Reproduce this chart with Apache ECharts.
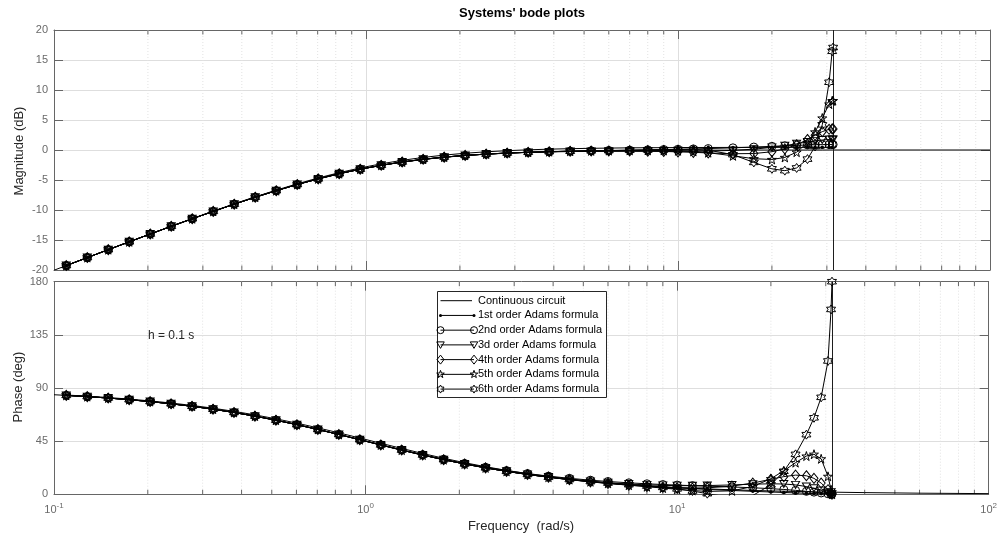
<!DOCTYPE html>
<html>
<head>
<meta charset="utf-8">
<title>Systems' bode plots</title>
<script src="https://cdn.jsdelivr.net/npm/echarts@6/dist/echarts.min.js"></script>
<style>
  html, body { margin: 0; padding: 0; background: #ffffff; }
  #chart { width: 1000px; height: 536px; }
</style>
</head>
<body>
<div id="chart"></div>
<script>
// Sampling of the discrete models: h = 0.1 s, Nyquist frequency pi/h (rad/s)
const nyquistFreq = 31.416;

// Frequency grid (rad/s) of the discrete (Adams formula) responses
const freqDiscrete = [0.1095, 0.1279, 0.1493, 0.1743, 0.2035, 0.2376, 0.2774, 0.3239, 0.3782, 0.4416,
  0.5156, 0.602, 0.7029, 0.8207, 0.9583, 1.119, 1.306, 1.525, 1.781, 2.079,
  2.428, 2.835, 3.31, 3.865, 4.512, 5.27, 6, 7, 8, 9,
  10, 11.2, 12.5, 15, 17.5, 20, 22, 24, 26, 27.5,
  29, 30.5, 31.2, 31.416];

// Frequency grid (rad/s) of the continuous circuit response
const freqContinuous = [0.1, 0.1095, 0.1279, 0.1493, 0.1743, 0.2035, 0.2376, 0.2774, 0.3239, 0.3782, 0.4416,
  0.5156, 0.602, 0.7029, 0.8207, 0.9583, 1.119, 1.306, 1.525, 1.781, 2.079,
  2.428, 2.835, 3.31, 3.865, 4.512, 5.27, 6, 7, 8, 9,
  10, 11.2, 12.5, 15, 17.5, 20, 22, 24, 26, 27.5,
  29, 30.5, 31.2, 31.416, 40, 60, 100];

// Magnitude (dB) and phase (deg) of the continuous circuit
const magContinuous = [-20.04, -19.26, -17.93, -16.61, -15.30, -14.00, -12.72, -11.46, -10.23, -9.03, -7.87,
  -6.78, -5.75, -4.81, -3.95, -3.20, -2.55, -2.00, -1.55, -1.19, -0.90,
  -0.68, -0.51, -0.38, -0.28, -0.21, -0.15, -0.12, -0.09, -0.07, -0.05,
  -0.04, -0.03, -0.03, -0.02, -0.01, -0.01, -0.01, -0.01, -0.01, -0.01,
  -0.01, 0, 0, 0, 0, 0, 0];
const phaseContinuous = [84.29, 83.75, 82.71, 81.51, 80.11, 78.50, 76.63, 74.50, 72.05, 69.28, 66.17,
  62.73, 58.95, 54.90, 50.63, 46.22, 41.79, 37.44, 33.25, 29.31, 25.69,
  22.39, 19.43, 16.81, 14.51, 12.50, 10.74, 9.46, 8.13, 7.13, 6.34,
  5.71, 5.10, 4.57, 3.81, 3.27, 2.86, 2.60, 2.39, 2.20, 2.08,
  1.98, 1.88, 1.84, 1.82, 1.43, 0.95, 0.57];

// 1st order Adams formula
const magAdams1 = [-19.26, -17.93, -16.61, -15.29, -13.99, -12.70, -11.43, -10.18, -8.97, -7.80,
  -6.69, -5.64, -4.66, -3.78, -2.99, -2.30, -1.72, -1.24, -0.85, -0.54,
  -0.30, -0.11, 0.03, 0.14, 0.22, 0.28, 0.32, 0.36, 0.38, 0.39,
  0.41, 0.42, 0.42, 0.43, 0.44, 0.44, 0.44, 0.44, 0.44, 0.45,
  0.45, 0.45, 0.45, 0.45];
const phaseAdams1 = [84.06, 83.07, 81.93, 80.60, 79.06, 77.28, 75.24, 72.90, 70.23, 67.24,
  63.90, 60.23, 56.26, 52.04, 47.66, 43.22, 38.83, 34.56, 30.52, 26.77,
  23.34, 20.25, 17.49, 15.06, 12.92, 11.04, 9.66, 8.21, 7.10, 6.22,
  5.50, 4.80, 4.17, 3.23, 2.52, 1.94, 1.54, 1.17, 0.84, 0.60,
  0.37, 0.14, 0.03, 0];

// 2nd order Adams formula
const magAdams2 = [-19.26, -17.93, -16.61, -15.30, -14.00, -12.72, -11.46, -10.23, -9.03, -7.87,
  -6.78, -5.75, -4.81, -3.96, -3.21, -2.57, -2.02, -1.58, -1.21, -0.93,
  -0.70, -0.53, -0.39, -0.29, -0.20, -0.13, -0.08, -0.02, 0.03, 0.08,
  0.12, 0.18, 0.24, 0.36, 0.49, 0.61, 0.70, 0.77, 0.84, 0.87,
  0.90, 0.91, 0.91, 0.92];
const phaseAdams2 = [83.75, 82.71, 81.51, 80.11, 78.50, 76.63, 74.50, 72.05, 69.28, 66.18,
  62.74, 58.97, 54.93, 50.71, 46.33, 41.94, 37.65, 33.52, 29.66, 26.12,
  22.91, 20.07, 17.56, 15.40, 13.54, 11.97, 10.84, 9.72, 8.90, 8.27,
  7.79, 7.32, 6.89, 6.20, 5.52, 4.77, 4.09, 3.34, 2.50, 1.84,
  1.15, 0.44, 0.10, 0];

// 3d order Adams formula
const magAdams3 = [-19.26, -17.93, -16.61, -15.30, -14.00, -12.72, -11.46, -10.23, -9.03, -7.87,
  -6.78, -5.75, -4.81, -3.95, -3.20, -2.55, -2.00, -1.55, -1.19, -0.90,
  -0.68, -0.51, -0.40, -0.32, -0.26, -0.23, -0.22, -0.21, -0.21, -0.22,
  -0.22, -0.21, -0.18, -0.06, 0.14, 0.44, 0.73, 1.04, 1.34, 1.52,
  1.67, 1.75, 1.76, 1.76];
const phaseAdams3 = [83.75, 82.71, 81.51, 80.11, 78.50, 76.63, 74.50, 72.05, 69.28, 66.17,
  62.73, 58.95, 54.90, 50.63, 46.22, 41.79, 37.44, 33.25, 29.31, 25.69,
  22.39, 19.48, 16.87, 14.59, 12.64, 10.95, 9.80, 8.70, 7.98, 7.55,
  7.33, 7.27, 7.39, 7.94, 8.57, 8.90, 8.71, 7.96, 6.56, 5.08,
  3.29, 1.28, 0.30, 0];

// 4th order Adams formula
const magAdams4 = [-19.26, -17.93, -16.61, -15.30, -14.00, -12.72, -11.46, -10.23, -9.03, -7.87,
  -6.78, -5.75, -4.81, -3.95, -3.20, -2.55, -2.00, -1.55, -1.19, -0.90,
  -0.68, -0.51, -0.38, -0.28, -0.22, -0.18, -0.16, -0.17, -0.20, -0.24,
  -0.31, -0.39, -0.49, -0.62, -0.59, -0.29, 0.19, 0.88, 1.75, 2.45,
  3.06, 3.45, 3.52, 3.52];
const phaseAdams4 = [83.75, 82.71, 81.51, 80.11, 78.50, 76.63, 74.50, 72.05, 69.28, 66.17,
  62.73, 58.95, 54.90, 50.63, 46.22, 41.79, 37.44, 33.25, 29.31, 25.69,
  22.39, 19.43, 16.81, 14.51, 12.38, 10.52, 9.17, 7.76, 6.72, 5.98,
  5.51, 5.29, 5.46, 6.92, 9.55, 12.71, 14.96, 16.24, 15.69, 13.50,
  9.50, 3.89, 0.93, 0];

// 5th order Adams formula
const magAdams5 = [-19.26, -17.93, -16.61, -15.30, -14.00, -12.72, -11.46, -10.23, -9.03, -7.87,
  -6.78, -5.75, -4.81, -3.95, -3.20, -2.55, -2.00, -1.55, -1.19, -0.90,
  -0.68, -0.51, -0.38, -0.28, -0.21, -0.14, -0.10, -0.07, -0.06, -0.08,
  -0.13, -0.25, -0.45, -0.97, -1.45, -1.58, -1.24, -0.36, 1.23, 3.01,
  5.33, 7.65, 8.19, 8.23];
const phaseAdams5 = [83.75, 82.71, 81.51, 80.11, 78.50, 76.63, 74.50, 72.05, 69.28, 66.17,
  62.73, 58.95, 54.90, 50.63, 46.22, 41.79, 37.44, 33.25, 29.31, 25.69,
  22.39, 19.43, 16.81, 14.51, 12.45, 10.64, 9.26, 7.73, 6.43, 5.27,
  4.22, 3.17, 2.44, 2.92, 6.60, 13.23, 19.89, 26.78, 32.38, 33.93,
  30.04, 15.20, 3.81, 0];

// 6th order Adams formula
const magAdams6 = [-19.26, -17.93, -16.61, -15.30, -14.00, -12.72, -11.46, -10.23, -9.03, -7.87,
  -6.78, -5.75, -4.81, -3.95, -3.20, -2.55, -2.00, -1.55, -1.19, -0.90,
  -0.68, -0.51, -0.38, -0.28, -0.21, -0.14, -0.10, -0.05, 0.01, 0.06,
  0.10, 0.10, -0.02, -0.78, -2.07, -3.14, -3.44, -2.99, -1.52, 0.59,
  4.20, 11.29, 16.45, 17.08];
const phaseAdams6 = [83.75, 82.71, 81.51, 80.11, 78.50, 76.63, 74.50, 72.05, 69.28, 66.17,
  62.73, 58.95, 54.90, 50.63, 46.22, 41.79, 37.44, 33.25, 29.31, 25.69,
  22.39, 19.43, 16.81, 14.51, 12.50, 10.77, 9.49, 8.11, 6.95, 5.82,
  4.57, 2.78, 0.54, -2.85, -0.97, 8.03, 19.50, 33.81, 50.49, 64.78,
  82.09, 112.88, 156.52, 180];

const seriesNames = ['Continuous circuit', '1st order Adams formula', '2nd order Adams formula',
  '3d order Adams formula', '4th order Adams formula', '5th order Adams formula', '6th order Adams formula'];

// Axis ticks
const magTicks = [-20, -15, -10, -5, 0, 5, 10, 15, 20];
const phaseTicks = [0, 45, 90, 135, 180];
const freqRange = [0.1, 100];
const minorFreqTicks = [0.2, 0.3, 0.4, 0.5, 0.6, 0.7, 0.8, 0.9, 2, 3, 4, 5, 6, 7, 8, 9,
  20, 30, 40, 50, 60, 70, 80, 90];

// ---------------------------------------------------------------------------
const FONT = "'Liberation Sans', Arial, Helvetica, sans-serif";
const AXIS_COLOR = '#666666';
const TICK_TEXT = '#6a6a6a';
const LABEL_TEXT = '#262626';
const GRID_COLOR = '#dedede';
const MINOR_GRID_COLOR = '#e2e2e2';
const LINE_COLOR = '#000000';

const PENTAGRAM = 'path://M50,0L61.2,34.5L97.6,34.5L68.2,55.9L79.4,90.5L50,69.1L20.6,90.5L31.8,55.9L2.4,34.5L38.8,34.5Z';
const HEXAGRAM = 'path://M50,0L64.4,25L93.3,25L78.9,50L93.3,75L64.4,75L50,100L35.6,75L6.7,75L21.1,50L6.7,25L35.6,25Z';
const TRIANGLE_DOWN = 'path://M0,0L10,0L5,8.66Z';

// Marker of each curve (index matches seriesNames)
const markers = [
  null,
  { symbol: 'circle', size: 3.5, fill: '#000000', kind: 'dot' },
  { symbol: 'circle', size: 8, fill: 'none', kind: 'circle' },
  { symbol: TRIANGLE_DOWN, size: [8, 7], fill: 'none', kind: 'triangle' },
  { symbol: 'diamond', size: [8, 10], fill: 'none', kind: 'diamond' },
  { symbol: PENTAGRAM, size: 9, fill: 'none', kind: 'pentagram' },
  { symbol: HEXAGRAM, size: 9, fill: 'none', kind: 'hexagram' }
];

const magData = [magContinuous, magAdams1, magAdams2, magAdams3, magAdams4, magAdams5, magAdams6];
const phaseData = [phaseContinuous, phaseAdams1, phaseAdams2, phaseAdams3, phaseAdams4, phaseAdams5, phaseAdams6];

function curve(idx, values, axisIndex) {
  const m = markers[idx];
  const xs = idx === 0 ? freqContinuous : freqDiscrete;
  const s = {
    name: seriesNames[idx],
    type: 'line',
    xAxisIndex: axisIndex,
    yAxisIndex: axisIndex,
    data: xs.map((x, i) => [x, values[i]]),
    symbol: m ? m.symbol : 'none',
    symbolSize: m ? m.size : 0,
    showSymbol: !!m,
    showAllSymbol: true,
    clip: true,
    silent: true,
    animation: false,
    z: 3 + idx,
    lineStyle: { color: LINE_COLOR, width: 1 },
    itemStyle: {
      color: m ? m.fill : LINE_COLOR,
      borderColor: LINE_COLOR,
      borderWidth: m && m.fill === 'none' ? 1 : 0
    },
    emphasis: { disabled: true }
  };
  if (idx === 6) {
    // Nyquist frequency of the sampled systems
    s.markLine = {
      silent: true,
      symbol: ['none', 'none'],
      label: { show: false },
      animation: false,
      lineStyle: { color: '#1e1e1e', width: 1, type: 'solid' },
      data: [{ xAxis: nyquistFreq }]
    };
  }
  return s;
}

// Dotted minor grid and minor tick marks of the log frequency axis
function minorRender(params, api) {
  const cs = params.coordSys;
  const px = api.coord([api.value(0), api.value(1)])[0];
  const top = cs.y, bottom = cs.y + cs.height;
  return {
    type: 'group',
    children: [
      { type: 'line', shape: { x1: px, y1: top, x2: px, y2: bottom },
        style: { stroke: MINOR_GRID_COLOR, lineWidth: 1, lineDash: [1, 2] } },
      { type: 'line', shape: { x1: px, y1: top, x2: px, y2: top + 4.5 },
        style: { stroke: AXIS_COLOR, lineWidth: 1 } },
      { type: 'line', shape: { x1: px, y1: bottom, x2: px, y2: bottom - 4.5 },
        style: { stroke: AXIS_COLOR, lineWidth: 1 } }
    ]
  };
}

function minorSeries(axisIndex, yBase) {
  return {
    type: 'custom',
    coordinateSystem: 'cartesian2d',
    xAxisIndex: axisIndex,
    yAxisIndex: axisIndex,
    data: minorFreqTicks.map(v => [v, yBase]),
    renderItem: minorRender,
    silent: true,
    animation: false,
    clip: false,
    z: 1
  };
}

function freqAxis(gridIndex, position, opts) {
  return Object.assign({
    type: 'log',
    logBase: 10,
    gridIndex: gridIndex,
    position: position,
    min: freqRange[0],
    max: freqRange[1],
    axisLine: { show: true, onZero: false, lineStyle: { color: AXIS_COLOR, width: 1 } },
    axisTick: { show: true, inside: true, length: 9, lineStyle: { color: AXIS_COLOR, width: 1 } },
    axisLabel: { show: false },
    splitLine: { show: false },
    minorTick: { show: false },
    minorSplitLine: { show: false }
  }, opts || {});
}

function valueAxis(gridIndex, position, ticks, opts) {
  return Object.assign({
    type: 'value',
    gridIndex: gridIndex,
    position: position,
    min: ticks[0],
    max: ticks[ticks.length - 1],
    interval: ticks[1] - ticks[0],
    axisLine: { show: true, onZero: false, lineStyle: { color: AXIS_COLOR, width: 1 } },
    axisTick: { show: true, inside: true, length: 9, lineStyle: { color: AXIS_COLOR, width: 1 } },
    axisLabel: { show: false },
    splitLine: { show: false }
  }, opts || {});
}

const gridLine = { show: true, lineStyle: { color: GRID_COLOR, width: 1, type: 'solid' } };
const yLabel = { show: true, fontSize: 11, color: TICK_TEXT, fontFamily: FONT, margin: 6 };

// Legend drawn as graphic elements (sample line with a marker at each end)
function starPoints(cx, cy, n, R, r) {
  const pts = [];
  for (let k = 0; k < 2 * n; k++) {
    const a = -Math.PI / 2 + k * Math.PI / n;
    const rad = k % 2 === 0 ? R : r;
    pts.push([cx + rad * Math.cos(a), cy + rad * Math.sin(a)]);
  }
  return pts;
}

const LEGEND_Z = 100;

function legendMarker(kind, cx, cy) {
  const st = { stroke: '#000', fill: 'none', lineWidth: 1 };
  let el = null;
  switch (kind) {
    case 'dot': el = { type: 'circle', shape: { cx, cy, r: 1.5 }, style: { fill: '#000' } }; break;
    case 'circle': el = { type: 'circle', shape: { cx, cy, r: 3.5 }, style: st }; break;
    case 'triangle': el = { type: 'polygon', shape: { points: [[cx - 3.75, cy - 3], [cx + 3.75, cy - 3], [cx, cy + 3.5]] }, style: st }; break;
    case 'diamond': el = { type: 'polygon', shape: { points: [[cx, cy - 4.5], [cx + 3.5, cy], [cx, cy + 4.5], [cx - 3.5, cy]] }, style: st }; break;
    case 'pentagram': el = { type: 'polygon', shape: { points: starPoints(cx, cy, 5, 4, 1.6) }, style: st }; break;
    case 'hexagram': el = { type: 'polygon', shape: { points: starPoints(cx, cy, 6, 4, 2.3) }, style: st }; break;
  }
  if (el) { el.z = LEGEND_Z; el.z2 = 2; }
  return el;
}

const legendBox = { x: 437.5, y: 291.5, w: 169, h: 106 };
const legendElements = [{
  type: 'rect', z: LEGEND_Z, z2: 0,
  shape: { x: legendBox.x, y: legendBox.y, width: legendBox.w, height: legendBox.h },
  style: { fill: '#ffffff', stroke: '#262626', lineWidth: 1 }
}];
seriesNames.forEach((name, i) => {
  const cy = 300.7 + i * 14.73;
  const x1 = 440.5, x2 = 474;
  legendElements.push({ type: 'line', z: LEGEND_Z, z2: 1,
    shape: { x1: x1, y1: cy, x2: i === 0 ? 472 : x2, y2: cy },
    style: { stroke: '#000', lineWidth: 1 } });
  const m = markers[i];
  if (m) {
    legendElements.push(legendMarker(m.kind, x1, cy));
    legendElements.push(legendMarker(m.kind, x2, cy));
  }
  legendElements.push({ type: 'text', z: LEGEND_Z, z2: 3, x: 478, y: cy,
    style: { text: name, fontSize: 11, fontFamily: FONT, fill: '#000', align: 'left', verticalAlign: 'middle' } });
});

const option = {
  backgroundColor: '#ffffff',
  animation: false,
  grid: [
    { left: 54, right: 10, top: 30, height: 240 },
    { left: 54, right: 10, top: 281.7, height: 212.6 }
  ],
  xAxis: [
    freqAxis(0, 'bottom', { splitLine: gridLine }),
    freqAxis(0, 'top'),
    freqAxis(1, 'bottom', {
      splitLine: gridLine,
      axisLabel: {
        show: true,
        margin: 7,
        color: TICK_TEXT,
        fontFamily: FONT,
        formatter: function (v) {
          return '{b|10}{sup|' + Math.round(Math.log10(v)) + '}';
        },
        rich: {
          b: { fontSize: 11, lineHeight: 18, color: TICK_TEXT, fontFamily: FONT },
          sup: { fontSize: 8, lineHeight: 8, verticalAlign: 'top', color: TICK_TEXT, fontFamily: FONT }
        }
      }
    }),
    freqAxis(1, 'top')
  ],
  yAxis: [
    valueAxis(0, 'left', magTicks, { splitLine: gridLine, axisLabel: yLabel }),
    valueAxis(0, 'right', magTicks),
    valueAxis(1, 'left', phaseTicks, { splitLine: gridLine, axisLabel: yLabel }),
    valueAxis(1, 'right', phaseTicks)
  ],
  series: [
    minorSeries(0, magTicks[0]),
    minorSeries(2, phaseTicks[0])
  ].concat(
    magData.map((vals, i) => curve(i, vals, 0)),
    phaseData.map((vals, i) => curve(i, vals, 2))
  ),
  graphic: [
    { type: 'text', x: 522, y: 13.5, z: 20,
      style: { text: "Systems' bode plots", fontSize: 13, fontWeight: 'bold', fontFamily: FONT,
        fill: '#000', align: 'center', verticalAlign: 'middle' } },
    { type: 'text', x: 19, y: 151, rotation: Math.PI / 2, z: 20,
      style: { text: 'Magnitude (dB)', fontSize: 13, fontFamily: FONT, fill: LABEL_TEXT,
        align: 'center', verticalAlign: 'middle' } },
    { type: 'text', x: 18, y: 387, rotation: Math.PI / 2, z: 20,
      style: { text: 'Phase (deg)', fontSize: 13, fontFamily: FONT, fill: LABEL_TEXT,
        align: 'center', verticalAlign: 'middle' } },
    { type: 'text', x: 521, y: 526.5, z: 20,
      style: { text: 'Frequency  (rad/s)', fontSize: 13, fontFamily: FONT, fill: LABEL_TEXT,
        align: 'center', verticalAlign: 'middle' } },
    { type: 'text', x: 148, y: 336, z: 20,
      style: { text: 'h = 0.1 s', fontSize: 12, fontFamily: FONT, fill: LABEL_TEXT,
        align: 'left', verticalAlign: 'middle' } }
  ].concat(legendElements)
};

const chart = echarts.init(document.getElementById('chart'), null, { renderer: 'canvas' });
chart.setOption(option);
</script>
</body>
</html>
